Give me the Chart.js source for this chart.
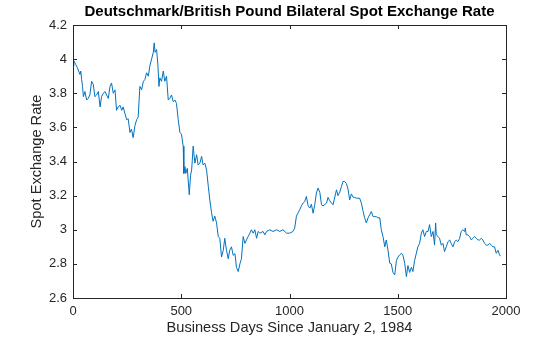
<!DOCTYPE html>
<html>
<head>
<meta charset="utf-8">
<script src="https://cdn.jsdelivr.net/npm/chart.js@4"></script>
<style>
  html, body { margin: 0; padding: 0; background: #fff; }
  #wrap { width: 560px; height: 337px; }
</style>
</head>
<body>
<div id="wrap"><canvas id="myChart" width="560" height="337"></canvas></div>
<script>
const chartTitle = "Deutschmark/British Pound Bilateral Spot Exchange Rate";
const xLabel = "Business Days Since January 2, 1984";
const yLabel = "Spot Exchange Rate";

// business day index
const days = [
  0, 4, 8, 12, 20, 32, 36, 40, 44, 48, 55, 63, 70, 78, 86, 94, 101, 109, 117, 125,
  132, 140, 148, 155, 163, 171, 178, 186, 194, 201, 209, 217, 225, 232, 240, 248, 255, 263, 270, 278,
  286, 294, 301, 309, 317, 325, 332, 340, 348, 355, 363, 371, 375, 379, 386, 392, 397, 401, 409, 417,
  424, 432, 440, 447, 455, 463, 471, 478, 486, 494, 501, 509, 512, 517, 521, 528, 537, 543, 548, 555,
  563, 571, 578, 586, 594, 601, 609, 617, 625, 632, 640, 647, 655, 663, 671, 678, 686, 694, 701, 709,
  717, 724, 732, 740, 748, 755, 763, 771, 778, 786, 794, 801, 809, 817, 824, 832, 840, 848, 855, 863,
  878, 886, 894, 909, 924, 940, 955, 970, 986, 1001, 1016, 1024, 1032, 1040, 1047, 1055, 1063, 1070, 1078, 1086,
  1094, 1101, 1109, 1117, 1124, 1132, 1140, 1148, 1155, 1171, 1178, 1186, 1194, 1201, 1217, 1224, 1232, 1240, 1247, 1255,
  1263, 1270, 1278, 1286, 1294, 1301, 1309, 1324, 1332, 1340, 1347, 1355, 1363, 1370, 1378, 1386, 1393, 1401, 1409, 1417,
  1424, 1432, 1440, 1447, 1455, 1463, 1470, 1478, 1486, 1494, 1501, 1509, 1517, 1524, 1532, 1540, 1547, 1555, 1563, 1570,
  1578, 1586, 1593, 1601, 1609, 1616, 1624, 1632, 1640, 1647, 1655, 1663, 1670, 1675, 1678, 1686, 1693, 1701, 1709, 1716,
  1724, 1732, 1740, 1747, 1755, 1763, 1770, 1778, 1786, 1793, 1801, 1809, 1812, 1816, 1824, 1832, 1840, 1847, 1855, 1863,
  1870, 1878, 1886, 1893, 1901, 1909, 1916, 1924, 1932, 1940, 1947, 1955, 1963, 1970, 1975
];

// DM per GBP
const rates = [
  3.96, 3.99, 3.98, 3.97, 3.95, 3.91, 3.93, 3.88, 3.84, 3.78, 3.81, 3.76, 3.77, 3.79, 3.87, 3.85, 3.78, 3.79, 3.81, 3.72,
  3.78, 3.80, 3.81, 3.79, 3.77, 3.84, 3.86, 3.80, 3.82, 3.70, 3.72, 3.73, 3.70, 3.72, 3.68, 3.645, 3.65, 3.57, 3.59, 3.54,
  3.61, 3.645, 3.66, 3.84, 3.82, 3.87, 3.88, 3.92, 3.90, 3.96, 4.00, 4.04, 4.095, 4.04, 4.056, 3.97, 3.84, 3.89, 3.87, 3.93,
  3.87, 3.90, 3.76, 3.77, 3.79, 3.75, 3.76, 3.74, 3.645, 3.57, 3.56, 3.49, 3.33, 3.37, 3.33, 3.36, 3.205, 3.32, 3.35, 3.49,
  3.39, 3.44, 3.38, 3.39, 3.43, 3.38, 3.39, 3.35, 3.253, 3.175, 3.10, 3.05, 3.08, 3.04, 2.96, 2.95, 2.84, 2.88, 2.95, 2.88,
  2.83, 2.88, 2.90, 2.85, 2.86, 2.78, 2.755, 2.80, 2.83, 2.96, 2.92, 2.94, 2.96, 2.98, 3.00, 2.98, 3.00, 2.95, 2.99, 2.98,
  2.99, 2.97, 2.99, 3.00, 2.99, 3.00, 2.99, 3.00, 2.98, 2.98, 2.99, 3.01, 3.08, 3.10, 3.117, 3.14, 3.156, 3.165, 3.195, 3.14,
  3.127, 3.15, 3.097, 3.15, 3.215, 3.244, 3.22, 3.146, 3.14, 3.156, 3.19, 3.17, 3.156, 3.146, 3.234, 3.20, 3.22, 3.254, 3.283, 3.283,
  3.27, 3.24, 3.175, 3.21, 3.19, 3.19, 3.185, 3.185, 3.156, 3.107, 3.07, 3.04, 3.07, 3.087, 3.107, 3.077, 3.077, 3.077, 3.07, 3.07,
  3.00, 2.96, 2.90, 2.94, 2.88, 2.804, 2.80, 2.75, 2.735, 2.82, 2.84, 2.853, 2.862, 2.85, 2.804, 2.725, 2.79, 2.75, 2.78, 2.755,
  2.82, 2.863, 2.90, 2.92, 2.98, 3.00, 2.96, 2.99, 2.99, 3.03, 2.96, 2.99, 2.91, 3.04, 2.97, 2.96, 2.95, 2.91, 2.92, 2.872,
  2.90, 2.93, 2.94, 2.92, 2.90, 2.93, 2.94, 2.93, 2.95, 2.99, 3.00, 2.99, 3.01, 2.97, 2.97, 2.96, 2.94, 2.95, 2.96, 2.95,
  2.94, 2.94, 2.95, 2.94, 2.92, 2.91, 2.91, 2.92, 2.91, 2.90, 2.90, 2.862, 2.88, 2.853, 2.845
];

const xMin = 0, xMax = 2000, xStep = 500;
const yMin = 2.6, yMax = 4.2, yStep = 0.2;

const axisColor = "#262626";
const fontFam = "Arial, 'Liberation Sans', Helvetica, sans-serif";

// MATLAB-style box with inward ticks and the text around the axes
const matlabAxes = {
  id: "matlabAxes",
  afterDraw(chart) {
    const { ctx, chartArea: a, scales } = chart;
    ctx.save();
    ctx.strokeStyle = axisColor;
    ctx.lineWidth = 1;
    ctx.strokeRect(Math.round(a.left) + 0.5, Math.round(a.top) + 0.5,
      Math.round(a.right - a.left), Math.round(a.bottom - a.top));
    const tl = 4;
    ctx.beginPath();
    scales.x.ticks.forEach(t => {
      const px = Math.round(scales.x.getPixelForValue(t.value)) + 0.5;
      ctx.moveTo(px, a.bottom); ctx.lineTo(px, a.bottom - tl);
      ctx.moveTo(px, a.top); ctx.lineTo(px, a.top + tl);
    });
    scales.y.ticks.forEach(t => {
      const py = Math.round(scales.y.getPixelForValue(t.value)) + 0.5;
      ctx.moveTo(a.left, py); ctx.lineTo(a.left + tl, py);
      ctx.moveTo(a.right, py); ctx.lineTo(a.right - tl, py);
    });
    ctx.stroke();

    ctx.fillStyle = "#000";
    ctx.textAlign = "center";
    ctx.textBaseline = "middle";
    ctx.font = "bold 15px " + fontFam;
    ctx.fillText(chartTitle, (a.left + a.right) / 2, 12);

    ctx.fillStyle = axisColor;
    ctx.font = "14.6px " + fontFam;
    ctx.fillText(xLabel, (a.left + a.right) / 2, 328);
    ctx.translate(37, (a.top + a.bottom) / 2);
    ctx.rotate(-Math.PI / 2);
    ctx.fillText(yLabel, 0, 0);
    ctx.restore();
  }
};

const ctx = document.getElementById("myChart").getContext("2d");
const myChart = new Chart(ctx, {
  type: "line",
  data: {
    datasets: [
      {
        label: "DM/GBP",
        data: days.map((d, i) => ({ x: d, y: rates[i] })),
        borderColor: "#0072BD",
        borderWidth: 1,
        pointRadius: 0,
        tension: 0,
        fill: false,
      },
    ],
  },
  options: {
    responsive: false,
    animation: false,
    layout: { padding: { top: 25, right: 54, left: 0, bottom: 0 } },
    plugins: {
      legend: { display: false },
      tooltip: { enabled: false },
    },
    scales: {
      x: {
        type: "linear",
        min: xMin,
        max: xMax,
        grid: { display: false, drawTicks: false },
        border: { display: false },
        ticks: {
          stepSize: xStep,
          color: axisColor,
          font: { family: fontFam, size: 13 },
          padding: 6,
          maxRotation: 0,
          callback: (v) => String(v),
        },
        afterFit: (scale) => { scale.height = 39; },
      },
      y: {
        min: yMin,
        max: yMax,
        grid: { display: false, drawTicks: false },
        border: { display: false },
        ticks: {
          stepSize: yStep,
          color: axisColor,
          font: { family: fontFam, size: 13 },
          padding: 6,
          callback: (v) => String(parseFloat(Number(v).toFixed(1))),
        },
        afterFit: (scale) => { scale.width = 73; },
      },
    },
  },
  plugins: [matlabAxes],
});
</script>
</body>
</html>
